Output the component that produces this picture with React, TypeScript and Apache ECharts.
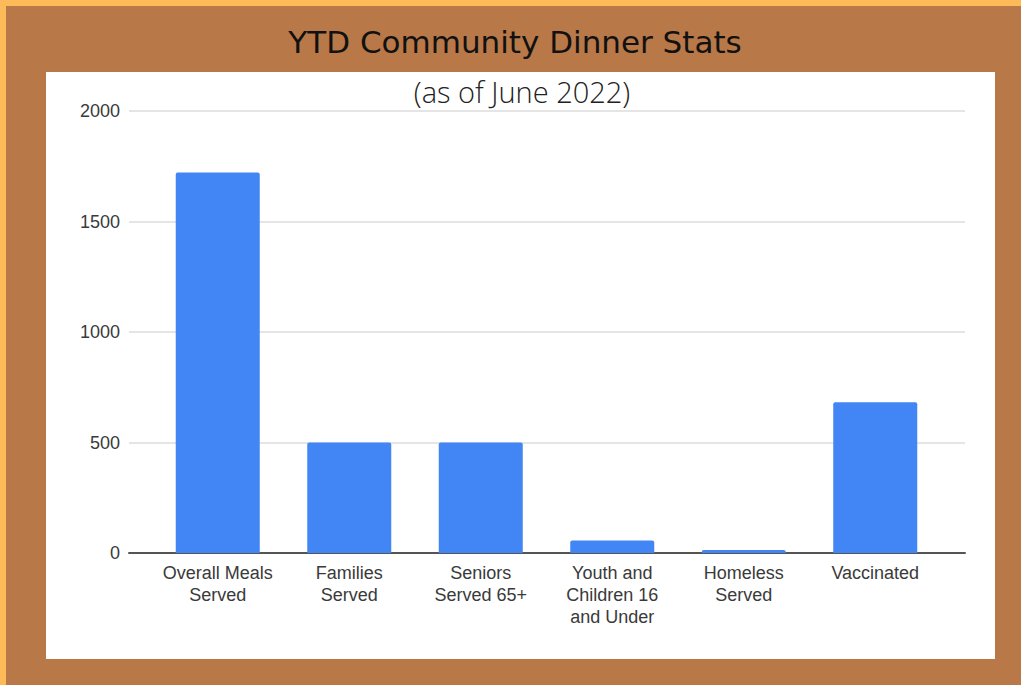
import React, { useEffect, useRef } from "react";
import * as echarts from "echarts";

const categories = [
  "Overall Meals\nServed",
  "Families\nServed",
  "Seniors\nServed 65+",
  "Youth and\nChildren 16\nand Under",
  "Homeless\nServed",
  "Vaccinated",
];
const values = [1722, 500, 500, 56, 14, 682];
const yMin = 0;
const yMax = 2000;
const yInterval = 500;
const title = "YTD Community Dinner Stats";
const subtitle = "(as of June 2022)";

export default function App() {
  const ref = useRef<HTMLDivElement>(null);
  useEffect(() => {
    document.body.style.margin = "0";
    const chart = echarts.init(ref.current!, undefined, { renderer: "svg" });
    const labelFont = { fontFamily: "Liberation Sans, Arial, sans-serif", fontSize: 18, color: "#3a3a3a" };
    chart.setOption({
      animation: false,
      backgroundColor: "#FDBA58",
      graphic: [
        { type: "rect", z: -10, shape: { x: 6, y: 6, width: 1015, height: 679 }, style: { fill: "#B87848" } },
        { type: "rect", z: -9, shape: { x: 46, y: 72, width: 949, height: 587 }, style: { fill: "#FFFFFF" } },
      ],
      title: [
        {
          text: title,
          left: 510,
          top: 21,
          textAlign: "center",
          textStyle: { fontFamily: "DejaVu Sans, sans-serif", fontSize: 31, fontWeight: "normal", color: "#111" },
        },
        {
          text: subtitle,
          left: 517,
          top: 72,
          textAlign: "center",
          textStyle: { fontFamily: "Open Sans, sans-serif", fontSize: 29, fontWeight: 300, color: "#222" },
        },
      ],
      grid: [
        { left: 152, top: 111, width: 789, height: 442 },
        { left: 129, top: 111, width: 836, height: 442 },
      ],
      xAxis: [
        {
          type: "category",
          gridIndex: 0,
          data: categories,
          axisLine: { show: false },
          axisTick: { show: false },
          axisLabel: { ...labelFont, interval: 0, lineHeight: 22, margin: 9 },
        },
        {
          type: "value",
          gridIndex: 1,
          min: 0,
          max: 1,
          axisLine: { show: true, lineStyle: { color: "#555", width: 2 } },
          axisTick: { show: false },
          axisLabel: { show: false },
          splitLine: { show: false },
        },
      ],
      yAxis: [
        {
          type: "value",
          gridIndex: 0,
          min: yMin,
          max: yMax,
          interval: yInterval,
          axisLabel: { show: false },
          splitLine: { show: false },
          axisLine: { show: false },
          axisTick: { show: false },
        },
        {
          type: "value",
          gridIndex: 1,
          min: yMin,
          max: yMax,
          interval: yInterval,
          axisLine: { show: false },
          axisTick: { show: false },
          axisLabel: { ...labelFont, margin: 9, formatter: (v: number) => String(v) },
          splitLine: { lineStyle: { color: "#DDDDDD", width: 1.5 } },
        },
      ],
      series: [
        {
          type: "bar",
          xAxisIndex: 0,
          yAxisIndex: 0,
          data: values,
          barWidth: 84,
          itemStyle: { color: "#4285F4", borderRadius: [2, 2, 0, 0] },
          z: 5,
        },
      ],
    });
    return () => chart.dispose();
  }, []);
  return <div ref={ref} style={{ width: 1021, height: 685 }} />;
}
